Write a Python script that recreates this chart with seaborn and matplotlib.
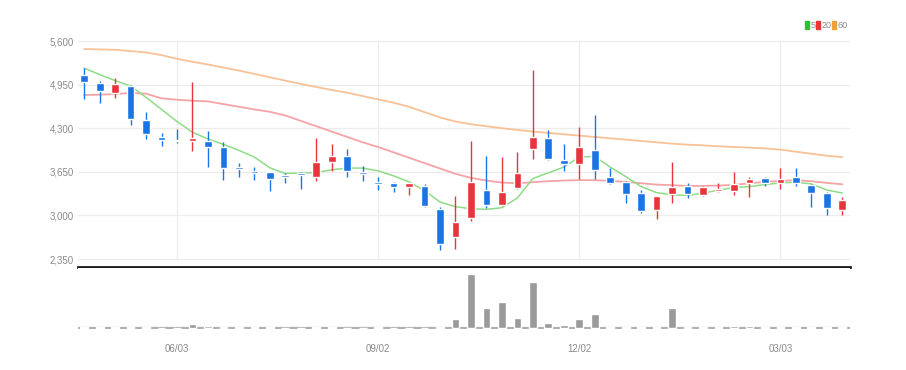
import numpy as np
import pandas as pd
import matplotlib
matplotlib.use("Agg")
import matplotlib.pyplot as plt
import seaborn as sns

# weekly candles, 50 weeks starting 2024-04-22
dates = pd.date_range("2024-04-22", periods=50, freq="7D")

opens = [5093, 4974, 4825, 4929, 4422, 4169, 4124, 4109, 4109, 4020,
         3706, 3662, 3647, 3587, 3632, 3572, 3796, 3885, 3647, 3483,
         3483, 3423, 3438, 3095, 2678, 2961, 3378, 3155, 3408, 3990,
         4154, 3826, 3766, 3975, 3572, 3498, 3334, 3080, 3319, 3438,
         3304, 3364, 3364, 3483, 3557, 3483, 3572, 3453, 3334, 3080]
highs = [5197, 5004, 5048, 4940, 4541, 4228, 4288, 4989, 4258, 4094,
         3781, 3721, 3647, 3632, 3647, 4154, 4064, 3990, 3736, 3572,
         3498, 3483, 3468, 3125, 3289, 4109, 3885, 3870, 3945, 5168,
         4273, 4064, 4318, 4497, 3706, 3520, 3380, 3295, 3796, 3483,
         3440, 3483, 3647, 3572, 3572, 3706, 3706, 3470, 3350, 3274]
lows = [4735, 4676, 4750, 4348, 4139, 4034, 4079, 3960, 3721, 3527,
        3572, 3527, 3364, 3483, 3393, 3513, 3662, 3572, 3513, 3378,
        3349, 3304, 3125, 2484, 2499, 2916, 3110, 3140, 3393, 3841,
        3830, 3662, 3542, 3542, 3475, 3185, 3036, 2946, 3185, 3259,
        3290, 3350, 3304, 3274, 3438, 3393, 3438, 3125, 3006, 3006]
closes = [4989, 4855, 4959, 4437, 4213, 4124, 4105, 4154, 4020, 3706,
          3692, 3632, 3542, 3572, 3602, 3796, 3885, 3662, 3617, 3468,
          3423, 3483, 3140, 2573, 2901, 3498, 3155, 3349, 3632, 4169,
          3841, 3766, 4020, 3677, 3483, 3319, 3066, 3289, 3423, 3319,
          3423, 3393, 3468, 3542, 3483, 3542, 3483, 3334, 3110, 3229]

ma5 = [5197, 5100, 5010, 4930, 4760, 4580, 4400, 4240, 4140, 4060,
       3970, 3870, 3710, 3625, 3632, 3640, 3680, 3706, 3706, 3665,
       3590, 3500, 3370, 3200, 3130, 3100, 3090, 3115, 3260, 3550,
       3635, 3720, 3870, 3880, 3721, 3580, 3430, 3340, 3305, 3300,
       3330, 3380, 3415, 3430, 3460, 3485, 3495, 3470, 3378, 3334]
ma20 = [4795, 4800, 4810, 4825, 4815, 4745, 4725, 4710, 4700, 4660,
        4620, 4580, 4545, 4490, 4410, 4330, 4250, 4170, 4090, 4020,
        3940, 3860, 3780, 3700, 3620, 3560, 3520, 3490, 3480, 3495,
        3510, 3520, 3527, 3525, 3515, 3500, 3480, 3460, 3450, 3440,
        3440, 3445, 3455, 3480, 3500, 3515, 3525, 3510, 3485, 3465]
ma60 = [5480, 5475, 5470, 5450, 5430, 5390, 5335, 5290, 5250, 5205,
        5160, 5110, 5060, 5010, 4960, 4915, 4870, 4830, 4780, 4730,
        4680, 4620, 4540, 4460, 4400, 4360, 4330, 4300, 4275, 4250,
        4230, 4210, 4190, 4170, 4150, 4130, 4110, 4090, 4070, 4055,
        4045, 4030, 4020, 4010, 4000, 3980, 3950, 3920, 3890, 3870]

volume = [15, 15, 15, 15, 15, 0, 0, 40, 25, 15,
          15, 15, 15, 0, 0, 15, 15, 0, 0, 15,
          0, 0, 0, 15, 90, 540, 200, 260, 100, 460,
          50, 30, 90, 140, 15, 15, 10, 10, 200, 15,
          10, 10, 20, 20, 15, 15, 15, 15, 10, 10]

price_ticks = [2350, 3000, 3650, 4300, 4950, 5600]
date_ticks = ["06/03", "09/02", "12/02", "03/03"]
ma_names = ["5", "20", "60"]

up_col = "#e8343b"
down_col = "#1a74e6"

sns.set_style("white")
plt.rcParams["font.family"] = ["Liberation Sans", "DejaVu Sans"]

idx = np.arange(len(dates))
o = np.array(opens); c = np.array(closes)
colors = [up_col if cc >= oo else down_col for oo, cc in zip(o, c)]

W, H = 906, 370
fig = plt.figure(figsize=(9.06, 3.70), dpi=100)
ax = fig.add_axes([78/W, 103/H, 772/W, 231/H])
axv = fig.add_axes([78/W, 41/H, 772/W, 61/H], sharex=ax)

# grid
for t in price_ticks:
    ax.axhline(t, color="#ececec", lw=0.9, zorder=0)
lab = [d.strftime("%m/%d") for d in dates]
tick_idx = [lab.index(t) for t in date_ticks]
ax.vlines(tick_idx, price_ticks[0], price_ticks[-1], color="#ececec", lw=0.9, zorder=0)

# moving averages
ma_df = pd.DataFrame({"i": idx, "5": ma5, "20": ma20, "60": ma60})
sns.lineplot(data=ma_df, x="i", y="60", ax=ax, color="#f8c196", lw=1.3, zorder=1)
sns.lineplot(data=ma_df, x="i", y="20", ax=ax, color="#f5a3a6", lw=1.3, zorder=1)
sns.lineplot(data=ma_df, x="i", y="5", ax=ax, color="#8fdc86", lw=1.1, zorder=1)

# candles
ax.vlines(idx, lows, highs, colors=colors, lw=1.0, zorder=2)
body = np.maximum(np.abs(c - o), 25)
ax.bar(idx, body, bottom=np.minimum(o, c), width=0.5, color=colors, zorder=3)

ax.set_xlim(-0.4, 49.5)
ax.set_ylim(2231, 5675)
ax.set_yticks(price_ticks)
ax.set_yticklabels([f"{t:,}" for t in price_ticks])
ax.tick_params(axis="y", length=0, labelsize=7, labelcolor="#8a8a8a", pad=3)
ax.tick_params(axis="x", length=0, labelbottom=False)
ax.set_xlabel(""); ax.set_ylabel("")
for s in ["top", "right", "left"]:
    ax.spines[s].set_visible(False)
ax.spines["bottom"].set_color("#1a1a1a")
ax.spines["bottom"].set_linewidth(2)

# legend (pixel positions from top-left)
leg = [(ma_names[0], "#2cc33a", 805), (ma_names[1], "#ee3535", 816), (ma_names[2], "#f0a03a", 832)]
for name, col, px in leg:
    fig.patches.append(plt.Rectangle((px/W, (H-29)/H), 4/W, 8/H, color=col,
                                     transform=fig.transFigure, figure=fig))
    fig.text((px + 6)/W, (H-25)/H, name, color="#8a8a8a", fontsize=6.5,
             va="center", ha="left")

# volume
vol_df = pd.DataFrame({"i": idx, "v": volume})
sns.barplot(data=vol_df, x="i", y="v", ax=axv, native_scale=True, width=0.5,
            color="#9a9a9a", saturation=1, zorder=2)
axv.axhline(0, color="#b0b0b0", lw=1.6, zorder=1)
axv.set_ylim(-8, 600)
axv.set_xlim(-0.4, 49.5)
axv.set_yticks([])
axv.set_xticks(tick_idx)
axv.set_xticklabels(date_ticks)
axv.tick_params(axis="x", length=4, width=0.8, color="#444444", labelsize=7,
                labelcolor="#8a8a8a", pad=7)
axv.set_xlabel(""); axv.set_ylabel("")
for s in ["top", "right", "left", "bottom"]:
    axv.spines[s].set_visible(False)

fig.savefig("out.png", dpi=100)
